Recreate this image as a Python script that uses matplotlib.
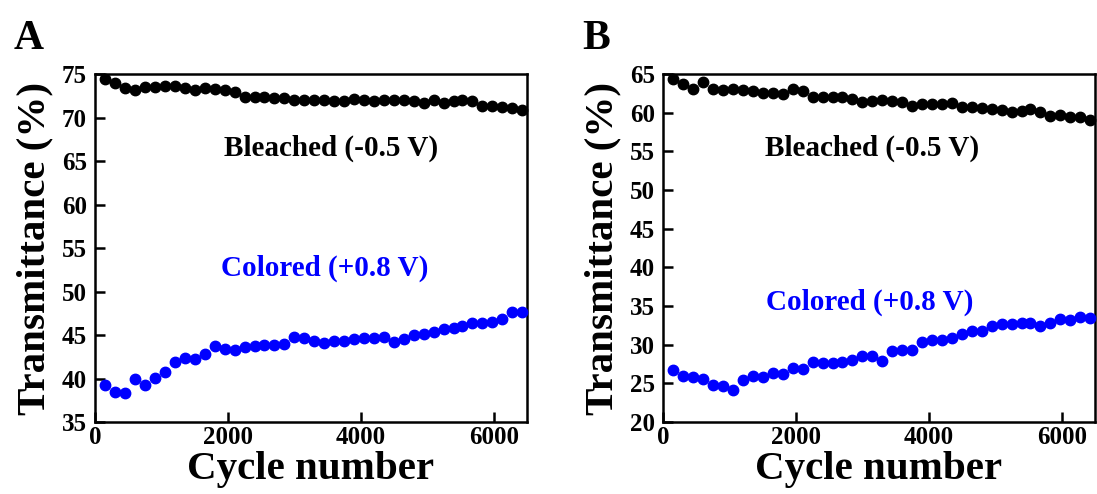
import matplotlib.pyplot as plt

plt.rcParams['font.family'] = 'Liberation Serif'
plt.rcParams['font.weight'] = 'bold'
plt.rcParams['axes.labelweight'] = 'bold'

cycles = [150, 300, 450, 600, 750, 900, 1050, 1200, 1350, 1500, 1650, 1800,
          1950, 2100, 2250, 2400, 2550, 2700, 2850, 3000, 3150, 3300, 3450,
          3600, 3750, 3900, 4050, 4200, 4350, 4500, 4650, 4800, 4950, 5100,
          5250, 5400, 5520, 5670, 5820, 5970, 6120, 6270, 6420]

# panel A
a_bleached = [74.4, 74.0, 73.4, 73.15, 73.55, 73.55, 73.65, 73.65, 73.4, 73.15,
              73.35, 73.25, 73.15, 72.95, 72.4, 72.3, 72.3, 72.2, 72.2, 72.0,
              72.0, 72.0, 72.0, 71.9, 71.9, 72.1, 72.0, 71.9, 72.0, 72.0,
              72.0, 71.9, 71.7, 72.0, 71.7, 71.9, 72.0, 71.9, 71.35, 71.35,
              71.15, 71.1, 70.85]
a_colored = [39.2, 38.5, 38.3, 39.9, 39.2, 40.1, 40.7, 41.85, 42.4, 42.3,
             42.8, 43.7, 43.4, 43.3, 43.65, 43.7, 43.8, 43.8, 44.0, 44.8,
             44.7, 44.35, 44.1, 44.35, 44.35, 44.5, 44.7, 44.7, 44.8, 44.2,
             44.5, 45.0, 45.1, 45.4, 45.7, 45.8, 46.0, 46.35, 46.35, 46.5,
             46.8, 47.6, 47.6]

# panel B
b_bleached = [64.35, 63.65, 63.05, 64.0, 63.05, 62.9, 63.05, 62.9, 62.8, 62.5,
              62.5, 62.4, 63.05, 62.8, 62.05, 62.0, 62.0, 62.0, 61.75, 61.4,
              61.5, 61.6, 61.55, 61.35, 60.9, 61.1, 61.1, 61.1, 61.2, 60.7,
              60.7, 60.55, 60.5, 60.35, 60.05, 60.25, 60.5, 60.05, 59.6, 59.7,
              59.5, 59.4, 59.05]
b_colored = [26.75, 26.0, 25.8, 25.5, 24.75, 24.6, 24.2, 25.4, 25.95, 25.8,
             26.35, 26.15, 27.0, 26.8, 27.75, 27.6, 27.6, 27.75, 28.05, 28.6,
             28.6, 27.95, 29.15, 29.35, 29.35, 30.35, 30.55, 30.55, 30.85, 31.35,
             31.75, 31.75, 32.4, 32.7, 32.7, 32.85, 32.85, 32.4, 32.85, 33.3,
             33.15, 33.6, 33.5]

fig = plt.figure(figsize=(10.97, 4.94), dpi=100)
axA = fig.add_axes([0.0866, 0.1457, 0.3938, 0.7045])
axB = fig.add_axes([0.6044, 0.1457, 0.3938, 0.7045])

panels = [
    (axA, a_bleached, a_colored, (35, 75), 'A', 0.012,
     (3550, 66.5), (3460, 52.7)),
    (axB, b_bleached, b_colored, (20, 65), 'B', 0.531,
     (3140, 55.4), (3110, 35.5)),
]

for ax, bl, co, ylim, letter, lx, bpos, cpos in panels:
    ax.plot(cycles, bl, 'o', color='black', ms=7.5, clip_on=False, zorder=3)
    ax.plot(cycles, co, 'o', color='#0000ff', ms=7.5, clip_on=False, zorder=3)
    ax.set_xlim(0, 6500)
    ax.set_ylim(*ylim)
    ax.set_xticks([0, 2000, 4000, 6000])
    ax.set_yticks(range(ylim[0], ylim[1] + 1, 5))
    ax.tick_params(direction='in', length=7, width=1.8, labelsize=18)
    ax.tick_params(axis='y', pad=6)
    ax.tick_params(axis='x', pad=3)
    for s in ax.spines.values():
        s.set_linewidth(1.8)
    ax.set_xlabel('Cycle number', fontsize=29.5, labelpad=1)
    ax.set_ylabel('Transmittance (%)', fontsize=29.5, labelpad=6)
    ax.text(*bpos, 'Bleached (-0.5 V)', fontsize=21, ha='center', va='center')
    ax.text(*cpos, 'Colored (+0.8 V)', fontsize=21, ha='center', va='center',
            color='#0000ff')
    fig.text(lx, 0.9, letter, fontsize=30, va='baseline')

fig.savefig('out.png', dpi=100)
